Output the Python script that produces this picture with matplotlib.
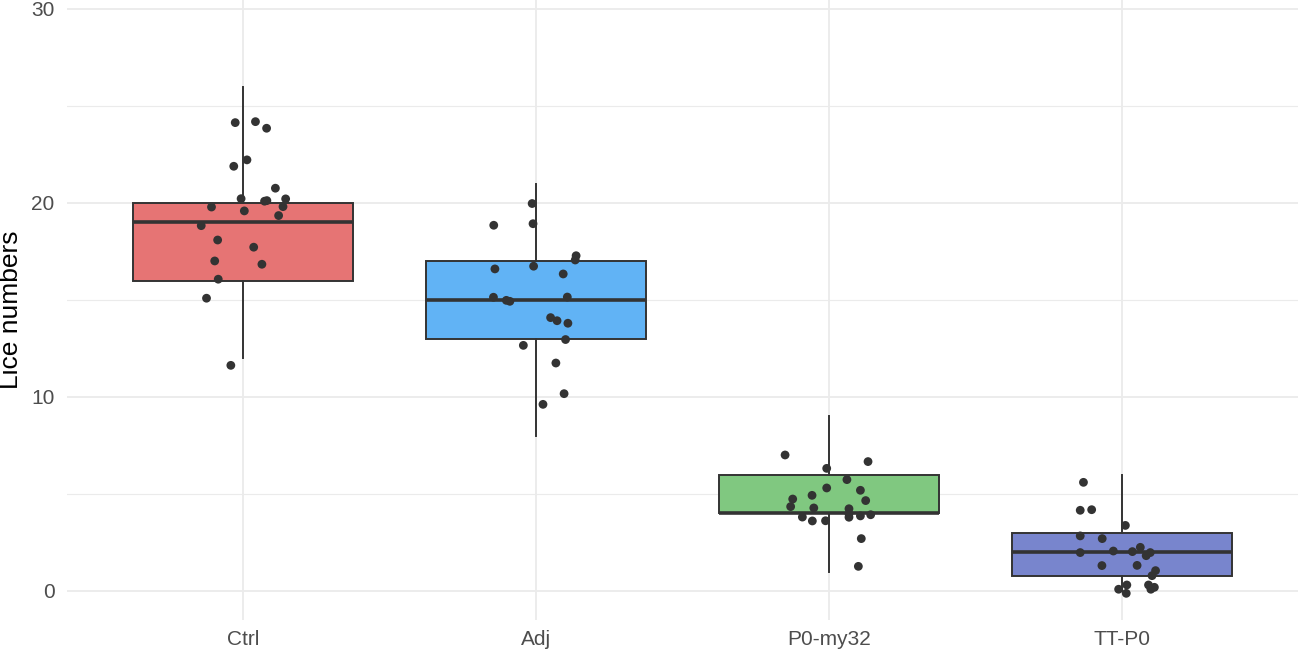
import matplotlib
matplotlib.use("Agg")
import matplotlib.pyplot as plt
import numpy as np

plt.rcParams['font.family'] = ['Liberation Sans', 'DejaVu Sans']

categories = ["Ctrl", "Adj", "P0-my32", "TT-P0"]
box_colors = ["#E67474", "#61B3F5", "#80C880", "#7885CD"]

# box statistics: whisker low, Q1, median, Q3, whisker high
whislo = [12, 8, 1, 0]
q1 = [16, 13, 4, 0.75]
med = [19, 15, 4, 2]
q3 = [20, 17, 6, 3]
whishi = [26, 21, 9, 6]

# jittered points: x offset from category centre, y value
ctrl_dx = [-0.026, 0.043, 0.081, 0.014, -0.031, 0.111, -0.006, 0.074, 0.082, 0.146,
           0.137, -0.107, 0.005, 0.122, -0.142, -0.086, 0.037, -0.096, 0.065, -0.084,
           -0.124, -0.041]
ctrl_y = [24.14, 24.19, 23.85, 22.22, 21.89, 20.76, 20.22, 20.09, 20.12, 20.21,
          19.81, 19.79, 19.59, 19.35, 18.83, 18.09, 17.72, 17.01, 16.84, 16.07,
          15.09, 11.63]
adj_dx = [-0.013, -0.010, -0.144, 0.137, 0.134, -0.140, -0.008, 0.093, -0.145, -0.101,
          -0.089, 0.107, 0.050, 0.072, 0.109, 0.101, -0.043, 0.068, 0.096, 0.024]
adj_y = [19.97, 18.93, 18.85, 17.28, 17.06, 16.60, 16.74, 16.34, 15.14, 14.98,
         14.93, 15.15, 14.09, 13.93, 13.80, 12.96, 12.66, 11.75, 10.17, 9.62]
p0_dx = [-0.150, 0.133, -0.008, 0.061, -0.008, 0.107, -0.058, -0.124, 0.125, -0.131,
         -0.052, 0.068, 0.068, 0.068, 0.107, 0.142, -0.091, -0.057, -0.012, 0.110,
         0.100]
p0_y = [7.01, 6.67, 6.32, 5.74, 5.31, 5.19, 4.93, 4.74, 4.66, 4.35,
        4.28, 4.24, 3.97, 3.80, 3.87, 3.93, 3.81, 3.61, 3.62, 2.70,
        1.27]
tt_dx = [-0.132, -0.143, -0.104, 0.011, -0.143, -0.068, -0.143, -0.030, 0.035, 0.062,
         0.082, 0.096, -0.069, 0.051, 0.114, 0.102, -0.012, 0.016, 0.014, 0.090,
         0.098, 0.110]
tt_y = [5.60, 4.16, 4.19, 3.38, 2.84, 2.70, 1.98, 2.06, 2.03, 2.25,
        1.82, 1.98, 1.31, 1.32, 1.05, 0.79, 0.09, 0.31, -0.12, 0.31,
        0.09, 0.19]

point_dx = [ctrl_dx, adj_dx, p0_dx, tt_dx]
point_y = [ctrl_y, adj_y, p0_y, tt_y]

fig = plt.figure(figsize=(12.99, 6.53), dpi=100)
ax = fig.add_axes([67 / 1299, 1 - 620 / 653, 1231 / 1299, 620 / 653])

positions = np.arange(1, len(categories) + 1)
stats = []
for i, c in enumerate(categories):
    stats.append(dict(label=c, whislo=whislo[i], q1=q1[i], med=med[i],
                      q3=q3[i], whishi=whishi[i], fliers=[]))

edge = "#333333"
bp = ax.bxp(stats, positions=positions, widths=0.75, patch_artist=True,
            showcaps=False, showfliers=False,
            boxprops=dict(edgecolor=edge, linewidth=1.4),
            whiskerprops=dict(color=edge, linewidth=1.4),
            medianprops=dict(color=edge, linewidth=2.6, solid_capstyle='butt'),
            zorder=2)
for patch, col in zip(bp['boxes'], box_colors):
    patch.set_facecolor(col)

for i in range(len(categories)):
    xs = positions[i] + np.array(point_dx[i])
    ax.scatter(xs, point_y[i], s=40, color="#333333", edgecolors="none", zorder=3)

ax.set_xlim(0.4, 4.6)
ax.set_ylim(-1.495, 30.46)
ax.set_yticks([0, 10, 20, 30])
ax.set_yticks([5, 15, 25], minor=True)
ax.set_xticks(positions)
ax.set_xticklabels(categories)

ax.grid(True, which='major', color="#EBEBEB", linewidth=1.3, zorder=0)
ax.grid(True, which='minor', axis='y', color="#EBEBEB", linewidth=0.8, zorder=0)
ax.set_axisbelow(True)
for s in ax.spines.values():
    s.set_visible(False)
ax.tick_params(which='both', length=0)
ax.tick_params(axis='y', labelsize=15, labelcolor="#4D4D4D", pad=9)
ax.tick_params(axis='x', labelsize=15, labelcolor="#4D4D4D", pad=7)
ax.set_ylabel("Lice numbers", fontsize=19, color="black")
ax.yaxis.set_label_coords(-0.0357, 0.5)

fig.savefig("out.png", dpi=100)
